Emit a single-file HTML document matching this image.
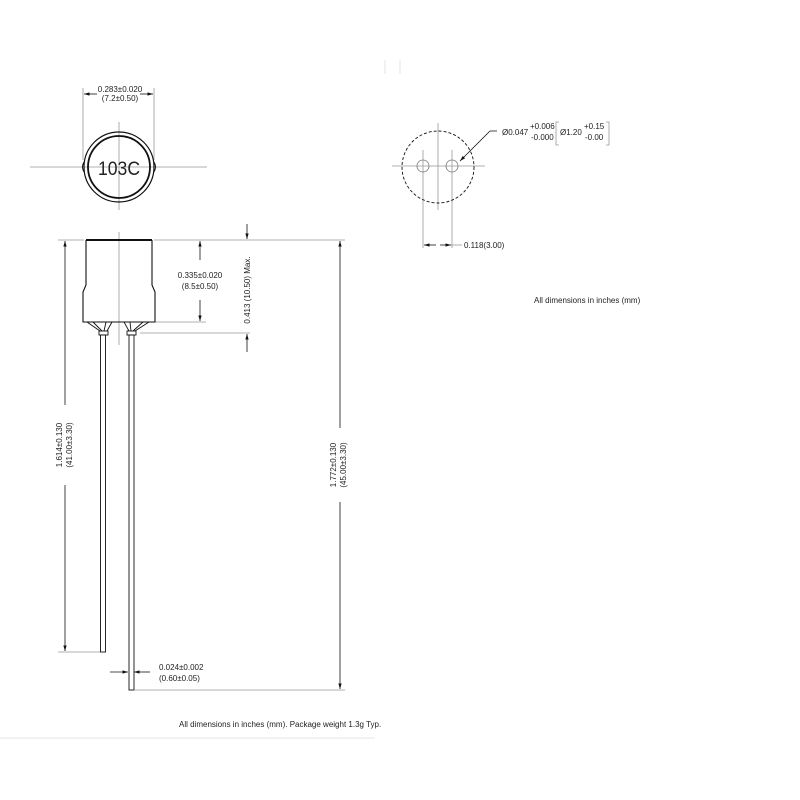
<!DOCTYPE html>
<html><head><style>body{margin:0;background:#fff}svg{display:block}text{font-family:"Liberation Sans",sans-serif;fill:#222}</style></head><body>
<svg width="800" height="800" viewBox="0 0 800 800" xmlns="http://www.w3.org/2000/svg">
<defs><marker id="a" viewBox="0 0 10 10" refX="10" refY="5" markerWidth="7" markerHeight="7" orient="auto-start-reverse"><path d="M0,2 L10,5 L0,8z" fill="#111"/></marker></defs>
<g stroke="#999" stroke-width="0.8" fill="none">
<line x1="30" y1="167" x2="207" y2="167"/><line x1="119" y1="122" x2="119" y2="210"/>
<line x1="83" y1="88" x2="83" y2="160"/><line x1="154" y1="88" x2="154" y2="160"/>
<line x1="119" y1="232" x2="119" y2="345"/>
<line x1="58" y1="240" x2="84" y2="240"/><line x1="154" y1="240" x2="345" y2="240"/>
<line x1="58" y1="652" x2="100" y2="652"/><line x1="154" y1="322" x2="206" y2="322"/>
<line x1="140" y1="333" x2="250" y2="333"/><line x1="135" y1="690" x2="345" y2="690"/>
<line x1="392" y1="166" x2="485" y2="166"/><line x1="438" y1="123" x2="438" y2="210"/>
<line x1="423" y1="150" x2="423" y2="248"/><line x1="452" y1="150" x2="452" y2="248"/>
<line x1="0" y1="738" x2="375" y2="738" stroke="#ddd"/>
<line x1="385" y1="60" x2="385" y2="74" stroke="#ddd"/><line x1="400" y1="60" x2="400" y2="74" stroke="#ddd"/>
</g>
<g stroke="#111" stroke-width="0.8" fill="none">
<line x1="97" y1="94" x2="84" y2="94" marker-end="url(#a)"/><line x1="140" y1="94" x2="153" y2="94" marker-end="url(#a)"/>
<line x1="65" y1="405" x2="65" y2="241" marker-end="url(#a)"/><line x1="65" y1="485" x2="65" y2="651" marker-end="url(#a)"/>
<line x1="200" y1="260" x2="200" y2="241" marker-end="url(#a)"/><line x1="200" y1="300" x2="200" y2="321" marker-end="url(#a)"/>
<line x1="247" y1="224" x2="247" y2="239" marker-end="url(#a)"/><line x1="247" y1="352" x2="247" y2="334" marker-end="url(#a)"/>
<line x1="340" y1="428" x2="340" y2="241" marker-end="url(#a)"/><line x1="340" y1="502" x2="340" y2="689" marker-end="url(#a)"/>
<line x1="110" y1="672" x2="128" y2="672" marker-end="url(#a)"/><line x1="150" y1="672" x2="134" y2="672" marker-end="url(#a)"/>
<line x1="424" y1="245" x2="436" y2="245" marker-start="url(#a)"/><line x1="451" y1="245" x2="440" y2="245" marker-start="url(#a)"/><line x1="451" y1="245" x2="462" y2="245" stroke="#999"/>
<polyline points="497,131 490,131 460,161" marker-end="url(#a)"/>
</g>
<g stroke="#111" fill="none">
<circle cx="119" cy="167" r="35" stroke-width="1.2"/><circle cx="119" cy="167" r="31" stroke-width="1.8"/>
<path d="M84,162 q-3,5 0,10 M154,162 q3,5 0,10" stroke-width="1"/>
<path d="M86,240 H152 M86,240 V285 L83,292 V322 H155 V292 L152,285 V240" stroke-width="1.1"/>
<line x1="86" y1="240" x2="152" y2="240" stroke-width="2"/>
<path d="M87,322 L100,331 M93,322 L102,331 M106,322 L104,331 M112,322 L107,331 M124,322 L129,331 M130,322 L131,331 M143,322 L133,331 M149,322 L135,331" stroke-width="0.9"/>
<rect x="99" y="331" width="9" height="4" stroke-width="0.9"/><rect x="127" y="331" width="9" height="4" stroke-width="0.9"/>
<rect x="100.5" y="335" width="5" height="317" stroke-width="0.9"/><rect x="129" y="335" width="5" height="355" stroke-width="0.9"/>
<circle cx="438" cy="167" r="36" stroke-dasharray="3,2" stroke-width="0.9"/>
<circle cx="423" cy="166" r="6" stroke="#777" stroke-width="0.8"/><circle cx="452" cy="166" r="6" stroke="#777" stroke-width="0.8"/>
<path d="M559,122 h-3 v23 h3 M606,122 h3 v23 h-3" stroke="#999" stroke-width="0.8"/>
</g>
<text x="119" y="175" font-size="19" text-anchor="middle" textLength="42" lengthAdjust="spacingAndGlyphs">103C</text>
<g font-size="8" text-anchor="middle">
<text x="120" y="92">0.283±0.020</text><text x="120" y="101">(7.2±0.50)</text>
<text x="200" y="278">0.335±0.020</text><text x="200" y="289">(8.5±0.50)</text>
<text transform="translate(250,290) rotate(-90)">0.413 (10.50) Max.</text>
<text transform="translate(62,445) rotate(-90)">1.614±0.130</text><text transform="translate(72,445) rotate(-90)">(41.00±3.30)</text>
<text transform="translate(336,465) rotate(-90)">1.772±0.130</text><text transform="translate(346,465) rotate(-90)">(45.00±3.30)</text>
</g>
<g font-size="8">
<text x="159" y="670">0.024±0.002</text><text x="159" y="681">(0.60±0.05)</text>
<text x="179" y="727">All dimensions in inches (mm). Package weight 1.3g Typ.</text>
<text x="464" y="248">0.118(3.00)</text>
<text x="502" y="135">Ø0.047</text><text x="530" y="129">+0.006</text><text x="531" y="140">-0.000</text>
<text x="560" y="135">Ø1.20</text><text x="584" y="129">+0.15</text><text x="585" y="140">-0.00</text>
<text x="534" y="303">All dimensions in inches (mm)</text>
</g>
</svg>
</body></html>
